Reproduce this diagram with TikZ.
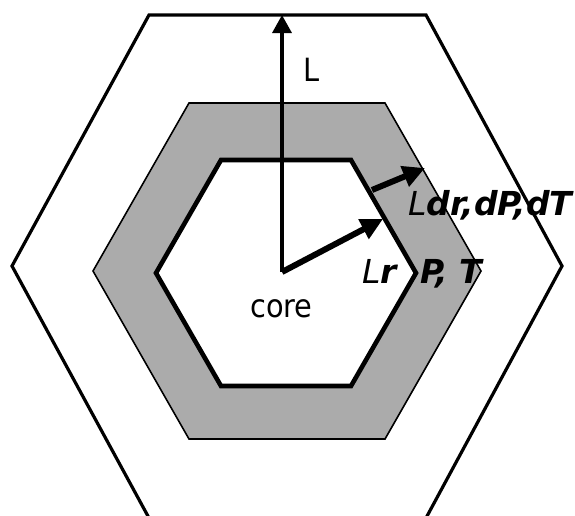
\documentclass[tikz,border=0pt]{standalone}
\usepackage{fontspec}
\setmainfont{DejaVu Sans Condensed}
\newfontfamily\qtyfont{DejaVu Sans}
\usetikzlibrary{arrows.meta}

\begin{document}
\begin{tikzpicture}[x=1pt, y=-1pt,
    hexline/.style={draw, line width=3.2pt, line join=miter},
    shell/.style={draw, line width=1.6pt, fill=black!33},
    core/.style={draw, line width=4.6pt, fill=white},
    arrow/.style={-{Triangle[length=18pt,width=19pt]}, line width=3.4pt},
    bigarrow/.style={-{Triangle[length=22pt,width=21pt]}, line width=6pt},
    lbl/.style={inner sep=0pt, anchor=base west, font=\fontsize{32}{36}\selectfont},
    qty/.style={inner sep=0pt, anchor=base west, font=\qtyfont\fontsize{33}{36}\selectfont\bfseries\itshape}
  ]
    \useasboundingbox (0,0) rectangle (575,515);
    % outer region, shell and core
    \draw[hexline] (149,15) -- (426,15) -- (562,266) -- (426,518) -- (149,518) -- (12,266) -- cycle;
    \draw[shell] (189,103) -- (385,103) -- (481,271) -- (385,439) -- (189,439) -- (93,271) -- cycle;
    \draw[core] (221,160) -- (351,160) -- (416,273) -- (351,386) -- (221,386) -- (156,273) -- cycle;

    \coordinate (ctr) at (282,272);
    \coordinate (top) at (282,15);
    \coordinate (rtip) at (383,219);
    \coordinate (dtail) at (372,190);
    \coordinate (dtip) at (425,168);

    \draw[arrow] (ctr) -- (top);
    \draw[bigarrow] (ctr) -- (rtip);
    \draw[bigarrow] (dtail) -- (dtip);

    \node[lbl] (lenL) at (303,81) {L};
    \node[lbl] (corelbl) at (250,317) {core};
    \node[qty] (lr) at (362,283) {{\mdseries L}r};
    \node[qty] (pt) at (420,283) {P, T};
    \node[qty] (dr) at (408,215) {{\mdseries L}dr,dP,dT};
  \end{tikzpicture}
\end{document}
